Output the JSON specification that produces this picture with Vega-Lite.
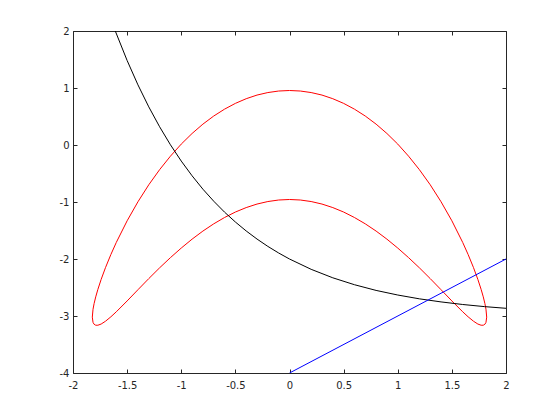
{
  "$schema": "https://vega.github.io/schema/vega-lite/v6.json",
  "width": 433,
  "height": 342,
  "autosize": {"type": "none"},
  "padding": {"left": 73, "top": 31, "right": 54, "bottom": 47},
  "background": "white",
  "config": {
    "view": {"stroke": null},
    "axis": {
      "grid": false,
      "domainColor": "#262626",
      "tickColor": "#262626",
      "labelColor": "#262626",
      "labelFont": "DejaVu Sans",
      "labelFontSize": 10,
      "tickSize": -4,
      "domainWidth": 1,
      "tickWidth": 1,
      "labelFlush": false,
      "labelOverlap": false,
      "labelBound": false
    }
  },
  "data": {
    "values": [
      {"series": "red", "order": 1, "x": 1.8217, "y": -3.02},
      {"series": "red", "order": 2, "x": 1.815, "y": -2.882},
      {"series": "red", "order": 3, "x": 1.805, "y": -2.782},
      {"series": "red", "order": 4, "x": 1.79, "y": -2.664},
      {"series": "red", "order": 5, "x": 1.77, "y": -2.532},
      {"series": "red", "order": 6, "x": 1.74, "y": -2.358},
      {"series": "red", "order": 7, "x": 1.7, "y": -2.152},
      {"series": "red", "order": 8, "x": 1.65, "y": -1.921},
      {"series": "red", "order": 9, "x": 1.6, "y": -1.709},
      {"series": "red", "order": 10, "x": 1.5, "y": -1.33},
      {"series": "red", "order": 11, "x": 1.4, "y": -0.996},
      {"series": "red", "order": 12, "x": 1.3, "y": -0.698},
      {"series": "red", "order": 13, "x": 1.2, "y": -0.433},
      {"series": "red", "order": 14, "x": 1.1, "y": -0.196},
      {"series": "red", "order": 15, "x": 1.0, "y": 0.016},
      {"series": "red", "order": 16, "x": 0.9, "y": 0.202},
      {"series": "red", "order": 17, "x": 0.8, "y": 0.366},
      {"series": "red", "order": 18, "x": 0.7, "y": 0.508},
      {"series": "red", "order": 19, "x": 0.6, "y": 0.629},
      {"series": "red", "order": 19.5, "x": 0.5, "y": 0.73},
      {"series": "red", "order": 20, "x": 0.4, "y": 0.812},
      {"series": "red", "order": 20.5, "x": 0.3, "y": 0.876},
      {"series": "red", "order": 21, "x": 0.2, "y": 0.92},
      {"series": "red", "order": 21.5, "x": 0.1, "y": 0.947},
      {"series": "red", "order": 22, "x": 0.0, "y": 0.956},
      {"series": "red", "order": 22.5, "x": -0.1, "y": 0.947},
      {"series": "red", "order": 23, "x": -0.2, "y": 0.92},
      {"series": "red", "order": 23.5, "x": -0.3, "y": 0.876},
      {"series": "red", "order": 24, "x": -0.4, "y": 0.812},
      {"series": "red", "order": 24.5, "x": -0.5, "y": 0.73},
      {"series": "red", "order": 25, "x": -0.6, "y": 0.629},
      {"series": "red", "order": 26, "x": -0.7, "y": 0.508},
      {"series": "red", "order": 27, "x": -0.8, "y": 0.366},
      {"series": "red", "order": 28, "x": -0.9, "y": 0.202},
      {"series": "red", "order": 29, "x": -1.0, "y": 0.016},
      {"series": "red", "order": 30, "x": -1.1, "y": -0.196},
      {"series": "red", "order": 31, "x": -1.2, "y": -0.433},
      {"series": "red", "order": 32, "x": -1.3, "y": -0.698},
      {"series": "red", "order": 33, "x": -1.4, "y": -0.996},
      {"series": "red", "order": 34, "x": -1.5, "y": -1.33},
      {"series": "red", "order": 35, "x": -1.6, "y": -1.709},
      {"series": "red", "order": 36, "x": -1.65, "y": -1.921},
      {"series": "red", "order": 37, "x": -1.7, "y": -2.152},
      {"series": "red", "order": 38, "x": -1.74, "y": -2.358},
      {"series": "red", "order": 39, "x": -1.77, "y": -2.532},
      {"series": "red", "order": 40, "x": -1.79, "y": -2.664},
      {"series": "red", "order": 41, "x": -1.805, "y": -2.782},
      {"series": "red", "order": 42, "x": -1.815, "y": -2.882},
      {"series": "red", "order": 43, "x": -1.8217, "y": -3.02},
      {"series": "red", "order": 44, "x": -1.815, "y": -3.112},
      {"series": "red", "order": 45, "x": -1.805, "y": -3.145},
      {"series": "red", "order": 46, "x": -1.79, "y": -3.162},
      {"series": "red", "order": 47, "x": -1.77, "y": -3.162},
      {"series": "red", "order": 48, "x": -1.74, "y": -3.141},
      {"series": "red", "order": 49, "x": -1.7, "y": -3.092},
      {"series": "red", "order": 50, "x": -1.65, "y": -3.014},
      {"series": "red", "order": 51, "x": -1.6, "y": -2.926},
      {"series": "red", "order": 52, "x": -1.5, "y": -2.736},
      {"series": "red", "order": 53, "x": -1.4, "y": -2.539},
      {"series": "red", "order": 54, "x": -1.3, "y": -2.344},
      {"series": "red", "order": 55, "x": -1.2, "y": -2.155},
      {"series": "red", "order": 56, "x": -1.1, "y": -1.976},
      {"series": "red", "order": 57, "x": -1.0, "y": -1.808},
      {"series": "red", "order": 58, "x": -0.9, "y": -1.652},
      {"series": "red", "order": 59, "x": -0.8, "y": -1.51},
      {"series": "red", "order": 60, "x": -0.7, "y": -1.383},
      {"series": "red", "order": 61, "x": -0.6, "y": -1.272},
      {"series": "red", "order": 61.5, "x": -0.5, "y": -1.176},
      {"series": "red", "order": 62, "x": -0.4, "y": -1.098},
      {"series": "red", "order": 62.5, "x": -0.3, "y": -1.036},
      {"series": "red", "order": 63, "x": -0.2, "y": -0.992},
      {"series": "red", "order": 63.5, "x": -0.1, "y": -0.965},
      {"series": "red", "order": 64, "x": 0.0, "y": -0.956},
      {"series": "red", "order": 64.5, "x": 0.1, "y": -0.965},
      {"series": "red", "order": 65, "x": 0.2, "y": -0.992},
      {"series": "red", "order": 65.5, "x": 0.3, "y": -1.036},
      {"series": "red", "order": 66, "x": 0.4, "y": -1.098},
      {"series": "red", "order": 66.5, "x": 0.5, "y": -1.176},
      {"series": "red", "order": 67, "x": 0.6, "y": -1.272},
      {"series": "red", "order": 68, "x": 0.7, "y": -1.383},
      {"series": "red", "order": 69, "x": 0.8, "y": -1.51},
      {"series": "red", "order": 70, "x": 0.9, "y": -1.652},
      {"series": "red", "order": 71, "x": 1.0, "y": -1.808},
      {"series": "red", "order": 72, "x": 1.1, "y": -1.976},
      {"series": "red", "order": 73, "x": 1.2, "y": -2.155},
      {"series": "red", "order": 74, "x": 1.3, "y": -2.344},
      {"series": "red", "order": 75, "x": 1.4, "y": -2.539},
      {"series": "red", "order": 76, "x": 1.5, "y": -2.736},
      {"series": "red", "order": 77, "x": 1.6, "y": -2.926},
      {"series": "red", "order": 78, "x": 1.65, "y": -3.014},
      {"series": "red", "order": 79, "x": 1.7, "y": -3.092},
      {"series": "red", "order": 80, "x": 1.74, "y": -3.141},
      {"series": "red", "order": 81, "x": 1.77, "y": -3.162},
      {"series": "red", "order": 82, "x": 1.79, "y": -3.162},
      {"series": "red", "order": 83, "x": 1.805, "y": -3.145},
      {"series": "red", "order": 84, "x": 1.815, "y": -3.112},
      {"series": "red", "order": 85, "x": 1.8217, "y": -3.02},
      {"series": "black", "order": 1, "x": -1.6094, "y": 2.0},
      {"series": "black", "order": 2, "x": -1.5, "y": 1.482},
      {"series": "black", "order": 3, "x": -1.4, "y": 1.055},
      {"series": "black", "order": 4, "x": -1.3, "y": 0.669},
      {"series": "black", "order": 5, "x": -1.2, "y": 0.32},
      {"series": "black", "order": 6, "x": -1.1, "y": 0.004},
      {"series": "black", "order": 7, "x": -1.0, "y": -0.282},
      {"series": "black", "order": 8, "x": -0.9, "y": -0.54},
      {"series": "black", "order": 9, "x": -0.8, "y": -0.775},
      {"series": "black", "order": 10, "x": -0.7, "y": -0.986},
      {"series": "black", "order": 11, "x": -0.6, "y": -1.178},
      {"series": "black", "order": 12, "x": -0.5, "y": -1.351},
      {"series": "black", "order": 13, "x": -0.4, "y": -1.508},
      {"series": "black", "order": 14, "x": -0.3, "y": -1.65},
      {"series": "black", "order": 15, "x": -0.2, "y": -1.779},
      {"series": "black", "order": 16, "x": -0.1, "y": -1.895},
      {"series": "black", "order": 17, "x": 0.0, "y": -2.0},
      {"series": "black", "order": 18, "x": 0.2, "y": -2.181},
      {"series": "black", "order": 19, "x": 0.4, "y": -2.33},
      {"series": "black", "order": 20, "x": 0.6, "y": -2.451},
      {"series": "black", "order": 21, "x": 0.8, "y": -2.551},
      {"series": "black", "order": 22, "x": 1.0, "y": -2.632},
      {"series": "black", "order": 23, "x": 1.2, "y": -2.699},
      {"series": "black", "order": 24, "x": 1.4, "y": -2.753},
      {"series": "black", "order": 25, "x": 1.6, "y": -2.798},
      {"series": "black", "order": 26, "x": 1.8, "y": -2.835},
      {"series": "black", "order": 27, "x": 2.0, "y": -2.865},
      {"series": "blue", "order": 1, "x": 0.0, "y": -4.0},
      {"series": "blue", "order": 2, "x": 2.0, "y": -2.0}
    ]
  },
  "layer": [
    {
      "mark": {"type": "line", "strokeWidth": 1, "clip": true},
      "encoding": {
        "x": {
          "field": "x", "type": "quantitative",
          "scale": {"domain": [-2, 2], "nice": false, "zero": false},
          "axis": {"orient": "bottom", "title": null, "values": [-2, -1.5, -1, -0.5, 0, 0.5, 1, 1.5, 2], "labelExpr": "'' + datum.value", "labelPadding": 11}
        },
        "y": {
          "field": "y", "type": "quantitative",
          "scale": {"domain": [-4, 2], "nice": false, "zero": false},
          "axis": {"orient": "left", "title": null, "values": [-4, -3, -2, -1, 0, 1, 2], "labelExpr": "'' + datum.value", "labelPadding": 8}
        },
        "color": {
          "field": "series", "type": "nominal",
          "scale": {"domain": ["red", "black", "blue"], "range": ["#ff0000", "#000000", "#0000ff"]},
          "legend": null
        },
        "order": {"field": "order", "type": "quantitative"}
      }
    },
    {
      "mark": {"type": "line", "opacity": 0},
      "encoding": {
        "x": {
          "field": "x", "type": "quantitative",
          "scale": {"domain": [-2, 2], "nice": false, "zero": false},
          "axis": {"orient": "top", "title": null, "labels": false, "values": [-2, -1.5, -1, -0.5, 0, 0.5, 1, 1.5, 2]}
        },
        "y": {
          "field": "y", "type": "quantitative",
          "scale": {"domain": [-4, 2], "nice": false, "zero": false},
          "axis": {"orient": "right", "title": null, "labels": false, "values": [-4, -3, -2, -1, 0, 1, 2]}
        },
        "detail": {"field": "series", "type": "nominal"},
        "order": {"field": "order", "type": "quantitative"}
      }
    }
  ],
  "resolve": {"axis": {"x": "independent", "y": "independent"}}
}
